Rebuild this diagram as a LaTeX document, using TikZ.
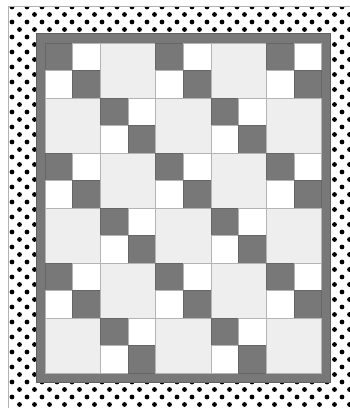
\documentclass[tikz,border=0pt]{standalone}
\definecolor{quiltdark}{RGB}{120,120,120}
\definecolor{quiltlight}{RGB}{238,238,238}
\definecolor{seamgray}{RGB}{180,180,180}
\begin{document}
\begin{tikzpicture}[x=1pt,y=-1pt,
    darkpatch/.style={draw=quiltdark!85!black,fill=quiltdark,line width=.5pt},
    whitepatch/.style={draw=seamgray,fill=white,line width=.5pt},
    plainblock/.style={draw=seamgray,fill=quiltlight,line width=.5pt}]
    \useasboundingbox (0,0) rectangle (350,408);
    \fill[white] (0,0) rectangle (350,408);

    % Gepunkteter Rand
    \begin{scope}
      \clip (8,6) rectangle (350,408);
      \foreach \k in {0,...,54}{
        \pgfmathsetmacro\yy{7+7.5*\k}
        \pgfmathsetmacro\xo{12-7.5*mod(\k,2)}
        \foreach \j in {0,...,23}{
          \fill[black] (\xo+15*\j,\yy) circle (2.4);
        }
      }
    \end{scope}
    \draw[gray!60,line width=.6pt] (8,408) -- (8,6) -- (350,6);

    % Dunkler Rand
    \draw[fill=quiltdark,draw=quiltdark!80!black] (36,33) rectangle (330,382);

    % Bloecke
    \def\bs{55.3}
    \def\hs{27.65}
    \foreach \r in {0,...,5}{
      \foreach \c in {0,...,4}{
        \pgfmathsetmacro\bx{45+\bs*\c}
        \pgfmathsetmacro\by{43+55*\r}
        \pgfmathtruncatemacro\odd{mod(\c+\r,2)}
        \ifnum\odd=0
          \draw[darkpatch] (\bx,\by) rectangle ++(\hs,\hs);
          \draw[whitepatch] (\bx+\hs,\by) rectangle ++(\hs,\hs);
          \draw[whitepatch] (\bx,\by+\hs) rectangle ++(\hs,\hs);
          \draw[darkpatch] (\bx+\hs,\by+\hs) rectangle ++(\hs,\hs);
        \else
          \draw[plainblock] (\bx,\by) rectangle ++(\bs,55);
        \fi
      }
    }
  \end{tikzpicture}
\end{document}
